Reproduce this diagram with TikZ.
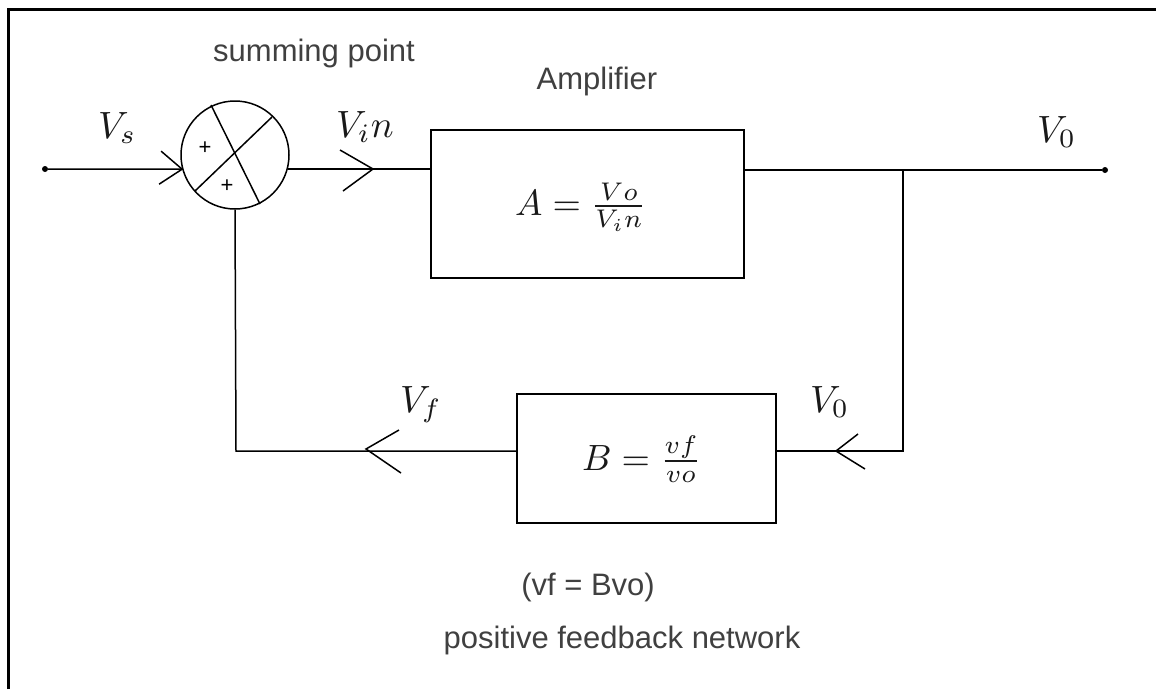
\documentclass[tikz,border=0pt]{standalone}
\usepackage{graphicx}
\usepackage{fontspec}
\setmainfont{Liberation Sans}
\usetikzlibrary{calc}
\newcommand\mbx[2]{\scalebox{#1}{$#2$}}
\begin{document}
\begin{tikzpicture}[x=1pt,y=-1pt,
  wire/.style={line width=1.5pt, line join=miter},
  blockbox/.style={draw, line width=1.6pt, inner sep=0pt},
  lbl/.style={text=black!75, font=\fontsize{31}{36}\selectfont, inner sep=0pt},
  mlbl/.style={text=black!90, inner sep=0pt, outer sep=0pt, anchor=base west},
  dotc/.style={circle, fill=black, inner sep=0pt, minimum size=6pt}]
\useasboundingbox (0,0) rectangle (1156,689);
% frame (top and left visible)
\draw[line width=3pt] (8.5,689) -- (8.5,9.5) -- (1156,9.5);

% summing point
\node[draw, circle, line width=1.5pt, minimum size=108pt, inner sep=0pt] (sum) at (235,155) {};
\coordinate (x1a) at (211,105);
\coordinate (x1b) at (260,204);
\coordinate (x2a) at (272,117);
\coordinate (x2b) at (195,191);
\draw[wire] (x1a) -- (x1b);
\draw[wire] (x2a) -- (x2b);
\node[font=\fontsize{22}{24}\selectfont, inner sep=0pt] (p1) at (205,148) {+};
\node[font=\fontsize{22}{24}\selectfont, inner sep=0pt] (p2) at (227,186) {+};

% blocks
\node[blockbox, minimum width=313pt, minimum height=148pt] (amp) at (587.5,204) {};
\node[mlbl] (aeq) at (515,215) {\mbx{3.65}{A=\frac{Vo}{V_in}}};
\node[blockbox, minimum width=259pt, minimum height=129pt] (bfb) at (646.5,458.5) {};
\node[mlbl] (beq) at (582,470) {\mbx{3.65}{B=\frac{vf}{vo}}};

% terminals and junctions
\node[dotc] (in) at (45,169) {};
\node[dotc] (out) at (1105,170) {};
\coordinate (j) at (903,170);
\coordinate (fb) at (903,451);
\coordinate (fl) at (236,451);

% connectors
\draw[wire] (in) -- (sum.195);
\draw[wire] (sum.-15) -- (sum.-15 -| amp.west);
\draw[wire] (j -| amp.east) -- (out);
\draw[wire] (j) -- (fb) -- (fb -| bfb.east);
\draw[wire] (bfb.west |- fl) -- (fl) -- (sum.south);

% chevron arrowheads
\coordinate (t1) at (sum.195);
\draw[wire] ($(t1)+(-21,-18)$) -- (t1) -- ($(t1)+(-23,15)$);
\coordinate (t2) at (373,169);
\draw[wire] ($(t2)+(-33,-19)$) -- (t2) -- ($(t2)+(-30,22)$);
\coordinate (t3) at (836,451);
\draw[wire] ($(t3)+(22,-17)$) -- (t3) -- ($(t3)+(29,18)$);
\coordinate (t4) at (366,449);
\draw[wire] ($(t4)+(33,-19)$) -- (t4) -- ($(t4)+(35,24)$);

% labels
\node[mlbl] (lvs) at (98,138) {\mbx{3.8}{V_s}};
\node[mlbl] (lvin) at (336,137) {\mbx{3.8}{V_in}};
\node[mlbl] (lvo) at (1037,142) {\mbx{3.8}{V_0}};
\node[mlbl] (lvf) at (400,412) {\mbx{3.8}{V_f}};
\node[mlbl] (lvo2) at (810,412) {\mbx{3.8}{V_0}};
\node[lbl] (tsum) at (314,53) {summing point};
\node[lbl] (tamp) at (597,81) {Amplifier};
\node[lbl] (tvf) at (588,587) {(vf = Bvo)};
\node[lbl] (tpos) at (622,640) {positive feedback network};
\end{tikzpicture}
\end{document}
